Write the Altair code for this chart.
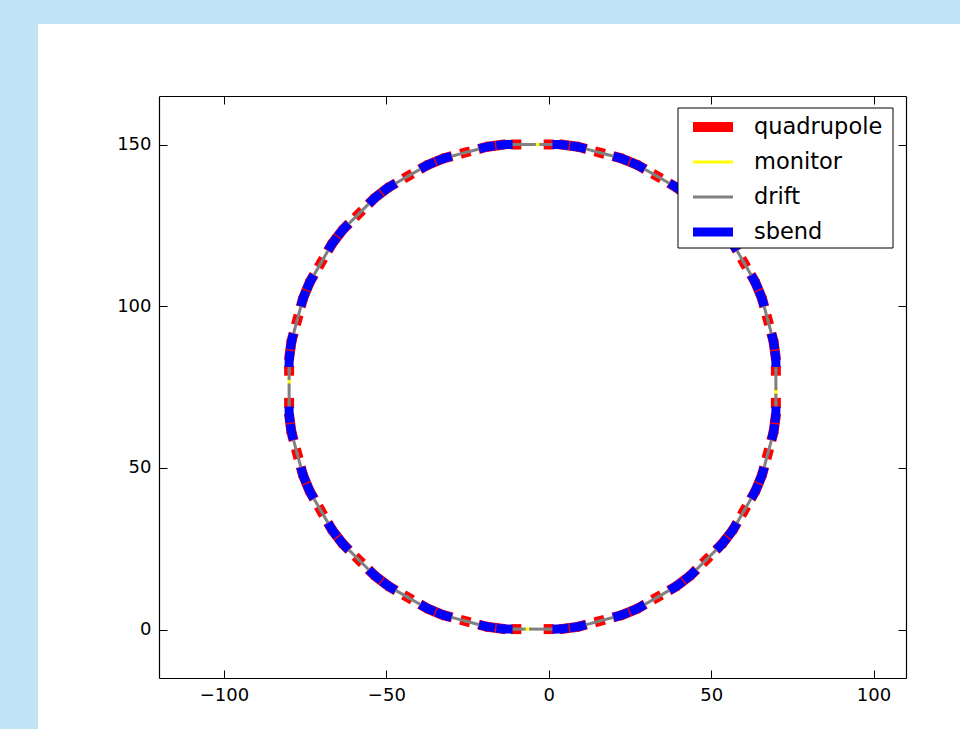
import math
import altair as alt
import pandas as pd

# ---- element types, drawing order (first = bottom) and styles ----
element_types = ["quadrupole", "monitor", "drift", "sbend"]
type_colors = ["#ff0000", "#ffff00", "#808080", "#0000ff"]
type_widths = [10, 3, 3, 9]

# ---- element catalogue: name, type, length [m], bend angle [deg] ----
# Q: thin quadrupole, q: quadrupole between the two dipoles of a pair
elem_name = ["Q", "q", "D", "Ds", "D1", "M", "D2", "B"]
elem_type = ["quadrupole", "quadrupole", "drift", "drift", "drift", "monitor", "drift", "sbend"]
elem_length = [0.05, 3.2, 5.71, 2.5, 2.4, 2.0, 5.55, 2.225]
elem_angle = [0.0, 0.0, 0.0, 0.0, 0.0, 0.0, 0.0, 7.5]

# ---- lattice layout: superperiod = straight + arc, ring = 4 superperiods ----
straight = ["Q", "D1", "M", "D2", "Q", "Ds"]
arc_cell = ["B", "q", "B", "Q", "D", "Q", "D", "Q"]
arc_cells = 5
arc_end = ["B", "q", "B", "Ds"]
superperiods = 4

# survey origin (entrance of the first quadrupole) and heading [deg]
origin_x, origin_y = 0.025, 150.0
origin_heading = 180.0

x_ticks = [-100, -50, 0, 50, 100]
y_ticks = [0, 50, 100, 150]
x_domain = [-120, 110]
y_domain = [-15, 165]

FONT = "DejaVu Sans"

# ---- survey: walk the sequence and collect polyline points per element ----
catalogue = {n: (t, L, a) for n, t, L, a in zip(elem_name, elem_type, elem_length, elem_angle)}
superperiod = straight + arc_cell * arc_cells + arc_end
sequence = superperiod * superperiods

rows = []
x, y, th = origin_x, origin_y, math.radians(origin_heading)
for eid, name in enumerate(sequence):
    etype, length, angle = catalogue[name]
    a = math.radians(angle)
    rows.append({"eid": eid, "type": etype, "k": 0, "x": x, "y": y})
    if a == 0:
        x, y = x + length * math.cos(th), y + length * math.sin(th)
        rows.append({"eid": eid, "type": etype, "k": 1, "x": x, "y": y})
    else:
        rho = length / a
        x0, y0, t0 = x, y, th
        nseg = 8
        for k in range(1, nseg + 1):
            t = t0 + a * k / nseg
            px = x0 + rho * (math.sin(t) - math.sin(t0))
            py = y0 - rho * (math.cos(t) - math.cos(t0))
            rows.append({"eid": eid, "type": etype, "k": k, "x": px, "y": py})
        x, y, th = px, py, t0 + a

points = pd.DataFrame(rows)

# ---- shared encodings ----
xs = alt.Scale(domain=x_domain, nice=False, zero=False)
ys = alt.Scale(domain=y_domain, nice=False, zero=False)

legend = alt.Legend(
    title=None, orient="none", legendX=519, legendY=13.6,
    symbolType="stroke", symbolSize=1600, symbolOffset=10,
    labelFont=FONT, labelFontSize=22.5, labelColor="#000000",
    padding=0, rowPadding=0, clipHeight=34.7, labelOffset=16,
    zindex=1,
)
color = alt.Color("type:N", scale=alt.Scale(domain=element_types, range=type_colors), legend=legend)
stroke_w = alt.StrokeWidth("type:N", scale=alt.Scale(type="ordinal", domain=element_types, range=type_widths), legend=legend)


def label_axis(orient, values):
    return alt.Axis(orient=orient, values=values, labels=True, labelFont=FONT, labelFontSize=18,
                    labelColor="#000000", labelPadding=8, ticks=False, tickSize=0,
                    domain=True, domainColor="#000000", domainWidth=1.2,
                    grid=False, title=None, zindex=1, labelOverlap=False)


def frame_axis(orient, values):
    return alt.Axis(orient=orient, values=values, labels=False, ticks=False, tickSize=0,
                    domain=True, domainColor="#000000", domainWidth=1.2,
                    grid=False, title=None, zindex=1)


def tick_axis(orient, values):
    # ticks pointing into the plot area
    return alt.Axis(orient=orient, values=values, offset=-8, labels=False, ticks=True, tickSize=8,
                    tickColor="#000000", tickWidth=1, domain=False, grid=False, title=None, zindex=1)


def element_layer(etype, xaxis, yaxis):
    return alt.Chart(points[points["type"] == etype]).mark_line(
        strokeCap="square", strokeJoin="round"
    ).encode(
        x=alt.X("x:Q", scale=xs, axis=xaxis),
        y=alt.Y("y:Q", scale=ys, axis=yaxis),
        color=color,
        strokeWidth=stroke_w,
        detail="eid:N",
        order="k:Q",
    )


# white page panel behind the axes
panel = alt.Chart(alt.Data(values=[{}])).mark_rect(color="#ffffff").encode(
    x=alt.value(-121), x2=alt.value(801), y=alt.value(-72), y2=alt.value(633)
)

# legend frame (drawn above the lattice, below the legend entries)
legend_box = alt.Chart(alt.Data(values=[{}])).mark_rect(
    fill="#ffffff", stroke="#000000", strokeWidth=1
).encode(
    x=alt.value(519), x2=alt.value(734), y=alt.value(12), y2=alt.value(152)
)

quad = element_layer("quadrupole", label_axis("bottom", x_ticks), label_axis("left", y_ticks))
mon = element_layer("monitor", frame_axis("top", x_ticks), frame_axis("right", y_ticks))
drift = element_layer("drift", tick_axis("bottom", x_ticks), tick_axis("left", y_ticks))
sbend = element_layer("sbend", tick_axis("top", x_ticks), tick_axis("right", y_ticks))

chart = alt.layer(panel, quad, mon, drift, sbend, legend_box).resolve_axis(
    x="independent", y="independent"
).properties(
    width=747, height=582,
    padding={"left": 38, "top": 24, "right": 0, "bottom": 0},
    background="#c1e3f6",
).configure_view(stroke=None)

chart.save("out.html", embed_options={"renderer": "svg", "actions": False})
